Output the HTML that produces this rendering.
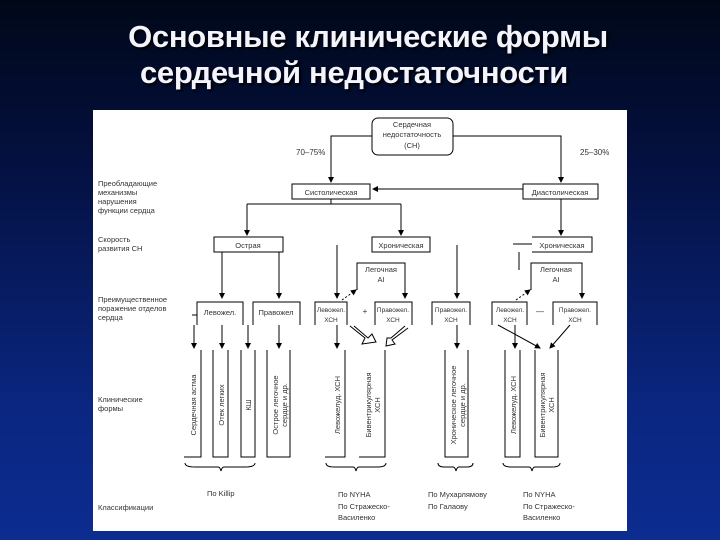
<!DOCTYPE html>
<html><head><meta charset="utf-8"><style>
html,body{margin:0;padding:0}
body{width:720px;height:540px;overflow:hidden;background:linear-gradient(#000818 0%,#041040 30%,#0a2680 75%,#0c2c90 100%);position:relative;font-family:"Liberation Sans",sans-serif}
.t{position:absolute;left:0;width:720px;text-align:center;color:#f4f4ff;font-size:31px;font-weight:bold;text-shadow:2px 2px 2px #000;line-height:40px;letter-spacing:-0.3px}
svg{position:absolute;left:0;top:0}
</style></head><body>
<div class="t" style="top:17px;padding-left:8px">Основные клинические формы</div>
<div class="t" style="top:53px;left:-6px">сердечной недостаточности</div>
<svg width="720" height="540" viewBox="0 0 720 540" font-family="Liberation Sans, sans-serif" font-size="8" fill="#333">
<defs><marker id="a" markerWidth="6" markerHeight="6" refX="5" refY="3" orient="auto"><path d="M0,0L6,3L0,6z" fill="#000"/></marker></defs>
<rect x="93" y="110" width="534" height="421" fill="#fff"/>
<g stroke="#000" stroke-width="1" fill="none">
<rect x="372" y="118" width="81" height="37" rx="6"/>
<path d="M372,136H331V182" marker-end="url(#a)"/>
<path d="M453,136H561V182" marker-end="url(#a)"/>
<rect x="292" y="184" width="78" height="15"/>
<rect x="523" y="184" width="75" height="15"/>
<path d="M523,189H373" marker-end="url(#a)"/>
<path d="M331,199V204M247,204H401M247,204V235" marker-end="url(#a)"/>
<path d="M401,204V235" marker-end="url(#a)"/>
<path d="M561,199V235" marker-end="url(#a)"/>
<rect x="214" y="237" width="69" height="15"/>
<rect x="372" y="237" width="58" height="15"/>
<path d="M513,244H532M532,237H592V252H532"/>
<path d="M222,252V298" marker-end="url(#a)"/>
<path d="M279,252V298" marker-end="url(#a)"/>
<path d="M337,245V298" marker-end="url(#a)"/>
<path d="M457,245V298" marker-end="url(#a)"/>
<path d="M357,290V263H405V298" marker-end="url(#a)"/>
<path d="M342,300L356,290" stroke-dasharray="2,2" marker-end="url(#a)"/>
<path d="M531,290V263H582V298" marker-end="url(#a)"/>
<path d="M516,300L530,290" stroke-dasharray="2,2" marker-end="url(#a)"/>
<path d="M519,252V270" />
<path d="M197,325V302H243V325M192,315H197"/>
<path d="M253,325V302H300V325"/>
<path d="M315,325V302H347V325"/>
<path d="M375,325V302H412V325"/>
<path d="M432,325V302H470V325"/>
<path d="M492,325V302H527V325"/>
<path d="M553,325V302H597V325"/>
<path d="M194,325V348" marker-end="url(#a)"/>
<path d="M222,325V348" marker-end="url(#a)"/>
<path d="M248,325V348" marker-end="url(#a)"/>
<path d="M279,325V348" marker-end="url(#a)"/>
<path d="M337,325V348" marker-end="url(#a)"/>
<path d="M457,325V348" marker-end="url(#a)"/>
<path d="M515,325V348" marker-end="url(#a)"/>
<path d="M498,325L540,348" marker-end="url(#a)"/>
<path d="M570,325L550,348" marker-end="url(#a)"/>
<path d="M350,326L365,338L362,344L376,342L372,334L368,338L354,326"/>
<path d="M405,326L391,338L387,338L386,346L395,344L392,340L408,328"/>
<path d="M184,457H201V350M213,350V457H228V350M241,350V457H255V350M267,350V457H290V350"/>
<path d="M345,350V457H325M385,350V457H359"/>
<path d="M445,350V457H468V350"/>
<path d="M505,350V457H520V350M535,350V457H558V350"/>
<path d="M185,463Q185,467 195,467H218Q220,467 221,471Q222,467 224,467H245Q255,467 255,463"/>
<path d="M326,463Q326,467 334,467H353Q355,467 356,471Q357,467 359,467H378Q386,467 386,463"/>
<path d="M438,463Q438,467 444,467H453Q455,467 456,471Q457,467 459,467H467Q473,467 473,463"/>
<path d="M503,463Q503,467 512,467H529Q531,467 532,471Q533,467 535,467H552Q560,467 560,463"/>
</g>
<g text-anchor="middle" font-size="7.5">
<text x="412" y="127">Сердечная</text><text x="412" y="137">недостаточность</text><text x="412" y="148">(СН)</text>
<text x="331" y="195">Систолическая</text><text x="560" y="195">Диастолическая</text>
<text x="248" y="248">Острая</text><text x="401" y="248">Хроническая</text><text x="562" y="248">Хроническая</text>
<text x="381" y="272">Легочная</text><text x="381" y="282">АI</text>
<text x="556" y="272">Легочная</text><text x="556" y="282">АI</text>
<text x="220" y="315">Левожел.</text><text x="276" y="315">Правожел</text>
</g>
<g text-anchor="middle" font-size="6.5">
<text x="331" y="312">Левожел.</text><text x="331" y="322">ХСН</text>
<text x="393" y="312">Правожел.</text><text x="393" y="322">ХСН</text>
<text x="451" y="312">Правожел.</text><text x="451" y="322">ХСН</text>
<text x="510" y="312">Левожел.</text><text x="510" y="322">ХСН</text>
<text x="575" y="312">Правожел.</text><text x="575" y="322">ХСН</text>
<text x="365" y="314" font-size="8">+</text><text x="540" y="314" font-size="8">—</text>
</g>
<text x="296" y="155" font-size="8">70–75%</text><text x="580" y="155" font-size="8">25–30%</text>
<g font-size="7.5">
<text transform="translate(196,405) rotate(-90)" text-anchor="middle">Сердечная астма</text>
<text transform="translate(224,405) rotate(-90)" text-anchor="middle">Отек легких</text>
<text transform="translate(251,405) rotate(-90)" text-anchor="middle">КШ</text>
<text transform="translate(278,405) rotate(-90)" text-anchor="middle">Острое легочное</text>
<text transform="translate(287,405) rotate(-90)" text-anchor="middle">сердце и др.</text>
<text transform="translate(340,405) rotate(-90)" text-anchor="middle">Левожелуд. ХСН</text>
<text transform="translate(371,405) rotate(-90)" text-anchor="middle">Бивентрикулярная</text>
<text transform="translate(380,405) rotate(-90)" text-anchor="middle">ХСН</text>
<text transform="translate(456,405) rotate(-90)" text-anchor="middle">Хроническое легочное</text>
<text transform="translate(465,405) rotate(-90)" text-anchor="middle">сердце и др.</text>
<text transform="translate(516,405) rotate(-90)" text-anchor="middle">Левожелуд. ХСН</text>
<text transform="translate(545,405) rotate(-90)" text-anchor="middle">Бивентрикулярная</text>
<text transform="translate(554,405) rotate(-90)" text-anchor="middle">ХСН</text>
</g>
<g font-size="7.5">
<text x="98" y="186">Преобладающие</text><text x="98" y="195">механизмы</text><text x="98" y="204">нарушения</text><text x="98" y="213">функции сердца</text>
<text x="98" y="242">Скорость</text><text x="98" y="251">развития СН</text>
<text x="98" y="302">Преимущественное</text><text x="98" y="311">поражение отделов</text><text x="98" y="320">сердца</text>
<text x="98" y="402">Клинические</text><text x="98" y="411">формы</text>
<text x="98" y="510">Классификации</text>
<text x="207" y="496">По Killip</text>
<text x="338" y="497">По NYHA</text><text x="338" y="509">По Стражеско-</text><text x="338" y="520">Василенко</text>
<text x="428" y="497">По Мухарлямову</text><text x="428" y="509">По Галаову</text>
<text x="523" y="497">По NYHA</text><text x="523" y="509">По Стражеско-</text><text x="523" y="520">Василенко</text>
</g>
</svg>
</body></html>
